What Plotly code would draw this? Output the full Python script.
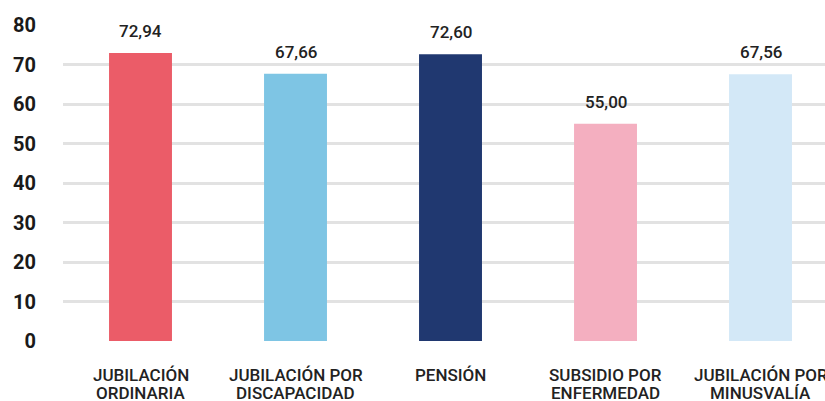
import plotly.graph_objects as go

categories = ["JUBILACIÓN<br>ORDINARIA", "JUBILACIÓN POR<br>DISCAPACIDAD", "PENSIÓN",
              "SUBSIDIO POR<br>ENFERMEDAD", "JUBILACIÓN POR<br>MINUSVALÍA"]
values = [72.94, 67.66, 72.60, 55.00, 67.56]
colors = ["#EB5C68", "#7EC5E4", "#203870", "#F4AFC0", "#D3E8F7"]
y_ticks = [0, 10, 20, 30, 40, 50, 60, 70, 80]

labels = [f"{v:.2f}".replace(".", ",") for v in values]
xpos = list(range(len(categories)))

fig = go.Figure(go.Bar(x=xpos, y=values, marker_color=colors,
                       marker_line_width=0, hoverinfo="skip"))

for i, (v, t) in enumerate(zip(values, labels)):
    fig.add_annotation(x=i, y=v, text=t, showarrow=False, yshift=22,
                       font=dict(family="Roboto", size=17, color="#222222", weight=500))

# category labels, drawn line by line for tight line spacing
for i, cat in enumerate(categories):
    for j, line in enumerate(cat.split("<br>")):
        fig.add_annotation(x=i, y=0, yref="y", text=line, showarrow=False,
                           yanchor="middle", yshift=-34 - 18 * j,
                           font=dict(family="Roboto", size=17, color="#222222", weight=500))

fig.update_layout(
    width=825, height=401,
    margin=dict(l=63, r=0, t=25, b=60),
    plot_bgcolor="white", paper_bgcolor="white",
    bargap=0.594, showlegend=False,
    xaxis=dict(range=[-0.5, 4.416], showticklabels=False, showgrid=False,
               zeroline=False, showline=False, ticks="", automargin=False),
    yaxis=dict(range=[0, 80], tickvals=y_ticks, showgrid=True, gridcolor="#E2E2E2",
               gridwidth=2.5, zeroline=False, showline=False, ticks="",
               ticklabelstandoff=26, automargin=False,
               tickfont=dict(family="Roboto", size=20, color="#1a1a1a", weight=700)),
)

fig.write_html("out.html", config={"displayModeBar": False},
               post_script="document.body.style.margin='0';")
